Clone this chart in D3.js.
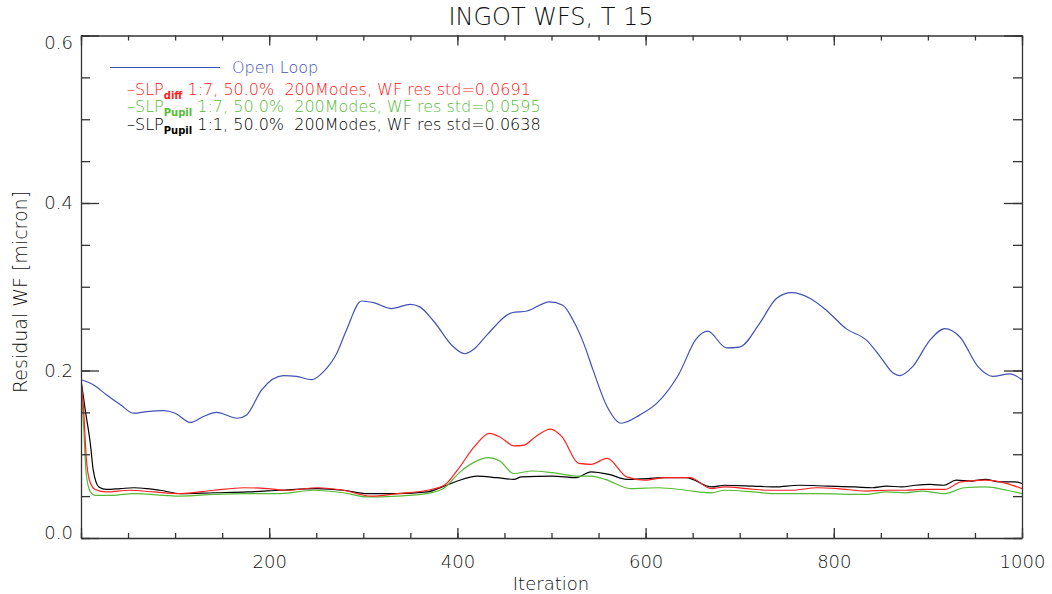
<!DOCTYPE html>
<html>
<head>
<meta charset="utf-8">
<script src="https://cdn.jsdelivr.net/npm/d3@7"></script>
<style>
  html, body { margin: 0; padding: 0; background: #fff; }
  svg { display: block; font-family: "DejaVu Sans", sans-serif; font-weight: 200; }
  text { white-space: pre; }
</style>
</head>
<body>
<svg id="chart" width="1052" height="594"></svg>
<script>
// ---------------- data ----------------
const titleText = "INGOT WFS, T 15";
const xLabel = "Iteration";
const yLabel = "Residual WF [micron]";
const xMajorTicks = [0, 200, 400, 600, 800, 1000];
const yMajorTicks = [0.0, 0.2, 0.4, 0.6];

// Open Loop (blue)
const olIter = [0,13,27,42,56,70,88,100,116,130,144,166,176,192,215,229,245,258,272,282,298,311,330,350,360,374,396,408,417,431,458,474,498,512,523,534,544,559,574,594,612,635,654,666,686,700,721,739,755,775,792,813,835,849,863,870,884,902,918,934,953,969,987,1000];
const olVal  = [.189,.183,.171,.159,.149,.151,.152,.149,.138,.145,.150,.143,.147,.177,.194,.193,.189,.199,.221,.248,.283,.281,.274,.279,.276,.260,.228,.220,.225,.242,.269,.271,.282,.278,.260,.233,.201,.157,.137,.147,.161,.195,.238,.247,.227,.228,.256,.286,.293,.286,.272,.250,.236,.217,.197,.194,.205,.236,.250,.240,.205,.193,.196,.189];

// SLP diff 1:7 (red)
const diffIter = [0,3,5.5,9,15,27,52,77,106,141,173,198,219,251,279,308,336,368,386,400,418,434,446,460,471,483,499,511,529,542,559,580,599,621,647,670,684,707,730,755,782,804,834,856,876,894,918,935,961,984,1000];
const diffVal  = [.189,.149,.097,.069,.058,.055,.057,.055,.053,.057,.060,.059,.057,.060,.057,.050,.053,.057,.063,.081,.109,.125,.120,.110,.111,.121,.130,.121,.089,.088,.095,.073,.069,.072,.072,.059,.061,.059,.057,.057,.060,.059,.056,.057,.057,.058,.058,.067,.069,.065,.059];

// SLP pupil 1:7 (green)
const pup7Iter = [0,3,5.5,10,15,34,56,88,105,141,176,212,247,279,304,336,367,385,403,417,433,445,460,479,501,526,542,557,584,614,643,670,684,714,737,782,834,856,876,894,918,939,961,984,1000];
const pup7Val  = [.189,.129,.077,.055,.051,.051,.053,.051,.050,.052,.053,.053,.057,.054,.049,.050,.053,.059,.079,.090,.096,.092,.077,.080,.078,.074,.074,.070,.059,.060,.057,.054,.057,.055,.053,.053,.052,.055,.054,.056,.053,.060,.061,.057,.053];

// SLP pupil 1:1 (black)
const pup1Iter = [0,4.5,10,13,19,27,42,56,70,84,106,141,177,212,251,279,304,336,368,386,400,421,442,460,468,501,526,542,561,580,602,621,643,670,684,714,737,763,793,823,841,856,872,887,902,917,930,946,961,976,993,1000];
const pup1Val  = [.189,.153,.112,.081,.061,.058,.059,.060,.059,.057,.053,.054,.055,.057,.059,.057,.053,.053,.055,.062,.068,.074,.072,.070,.073,.074,.072,.079,.076,.070,.071,.072,.072,.061,.063,.062,.061,.063,.062,.061,.060,.062,.061,.063,.064,.063,.069,.068,.070,.067,.067,.065];

const seriesNames = ["Open Loop", "SLP_diff", "SLP_Pupil 1:7", "SLP_Pupil 1:1"];
const seriesColors = ["#3f51b5", "#ff2020", "#55bb35", "#000000"];

// ---------------- layout ----------------
const svg = d3.select("#chart");
const L = 81, R = 1022, T = 35.5, B = 538;
const x = d3.scaleLinear().domain([0, 1000]).range([L, R]);
const y = d3.scaleLinear().domain([0, 0.6]).range([B, T]);

const axisColor = "#333";
const textColor = "#111";

// clip
svg.append("clipPath").attr("id", "clip")
  .append("rect").attr("x", L).attr("y", T).attr("width", R - L).attr("height", B - T);

// lines
const series = [
  {it: olIter, v: olVal, c: seriesColors[0]},
  {it: diffIter, v: diffVal, c: seriesColors[1]},
  {it: pup7Iter, v: pup7Val, c: seriesColors[2]},
  {it: pup1Iter, v: pup1Val, c: seriesColors[3]}
];
const line = d3.line().x(d => x(d[0])).y(d => y(d[1])).curve(d3.curveMonotoneX);
const gLines = svg.append("g").attr("clip-path", "url(#clip)");
series.slice().reverse().forEach(s => {
  gLines.append("path")
    .datum(s.it.map((d, i) => [d, s.v[i]]))
    .attr("fill", "none")
    .attr("stroke", s.c)
    .attr("stroke-width", 1.2)
    .attr("d", line);
});

// axes
function styleAxis(g, keepDomain) {
  g.selectAll("line").attr("stroke", axisColor).attr("stroke-width", 1.3);
  g.selectAll("path.domain").attr("stroke", axisColor).attr("stroke-width", 1.3);
  if (!keepDomain) g.select("path.domain").remove();
  g.selectAll("text").attr("fill", textColor).attr("font-size", 18)
    .attr("font-family", '"DejaVu Sans", sans-serif').attr("font-weight", 200);
}
const xMinor = d3.range(0, 1001, 50);
const yMinor = d3.range(0, 0.6001, 0.05);

// bottom
svg.append("g").attr("transform", `translate(0,${B})`)
  .call(d3.axisBottom(x).tickValues(xMinor).tickSize(-5).tickFormat(""))
  .call(g => styleAxis(g, false));
svg.append("g").attr("transform", `translate(0,${B})`)
  .call(d3.axisBottom(x).tickValues(xMajorTicks).tickSize(-10).tickSizeOuter(0).tickPadding(17)
        .tickFormat(d => d === 0 ? "" : d3.format("d")(d)))
  .call(g => styleAxis(g, true));
// top
svg.append("g").attr("transform", `translate(0,${T})`)
  .call(d3.axisTop(x).tickValues(xMinor).tickSize(-5).tickFormat(""))
  .call(g => styleAxis(g, false));
svg.append("g").attr("transform", `translate(0,${T})`)
  .call(d3.axisTop(x).tickValues(xMajorTicks).tickSize(-10).tickSizeOuter(0).tickFormat(""))
  .call(g => styleAxis(g, true));
// left
svg.append("g").attr("transform", `translate(${L},0)`)
  .call(d3.axisLeft(y).tickValues(yMinor).tickSize(-9).tickFormat(""))
  .call(g => styleAxis(g, false));
const gLeft = svg.append("g").attr("transform", `translate(${L},0)`)
  .call(d3.axisLeft(y).tickValues(yMajorTicks).tickSize(-18).tickSizeOuter(0).tickPadding(8)
        .tickFormat(d3.format(".1f")))
  .call(g => styleAxis(g, true));
// keep extreme labels inside the frame band like the original
gLeft.selectAll(".tick text").attr("y", d => d >= 0.6 ? 7.5 : (d <= 0 ? -5 : 0));
// right
svg.append("g").attr("transform", `translate(${R},0)`)
  .call(d3.axisRight(y).tickValues(yMinor).tickSize(-9).tickFormat(""))
  .call(g => styleAxis(g, false));
svg.append("g").attr("transform", `translate(${R},0)`)
  .call(d3.axisRight(y).tickValues(yMajorTicks).tickSize(-18).tickSizeOuter(0).tickFormat(""))
  .call(g => styleAxis(g, true));

// title and axis labels
svg.append("text").attr("x", 551).attr("y", 25).attr("text-anchor", "middle")
  .attr("font-size", 24).attr("fill", textColor).text(titleText);
svg.append("text").attr("x", 551).attr("y", 590).attr("text-anchor", "middle")
  .attr("font-size", 18).attr("fill", textColor).text(xLabel);
svg.append("text").attr("transform", "translate(27,292) rotate(-90)").attr("text-anchor", "middle")
  .attr("font-size", 19).attr("fill", textColor).text(yLabel);

// legend
const lg = svg.append("g");
lg.append("line").attr("x1", 110).attr("x2", 220).attr("y1", 67.5).attr("y2", 67.5)
  .attr("stroke", seriesColors[0]).attr("stroke-width", 1.2);
lg.append("text").attr("x", 232).attr("y", 73).attr("font-size", 16)
  .attr("fill", seriesColors[0]).text(seriesNames[0]);

const legendRows = [
  {sub: "diff", rest: " 1:7, 50.0%  200Modes, WF res std=0.0691", c: seriesColors[1], y: 95},
  {sub: "Pupil", rest: " 1:7, 50.0%  200Modes, WF res std=0.0595", c: seriesColors[2], y: 112},
  {sub: "Pupil", rest: " 1:1, 50.0%  200Modes, WF res std=0.0638", c: seriesColors[3], y: 129.5}
];
legendRows.forEach(r => {
  const t = lg.append("text").attr("x", 127).attr("y", r.y).attr("font-size", 16).attr("fill", r.c);
  t.append("tspan").text("\u2013SLP");
  t.append("tspan").attr("dy", 4).attr("font-size", 10).attr("font-weight", 700).text(r.sub);
  t.append("tspan").attr("dy", -4).text(r.rest);
});
</script>
</body>
</html>
